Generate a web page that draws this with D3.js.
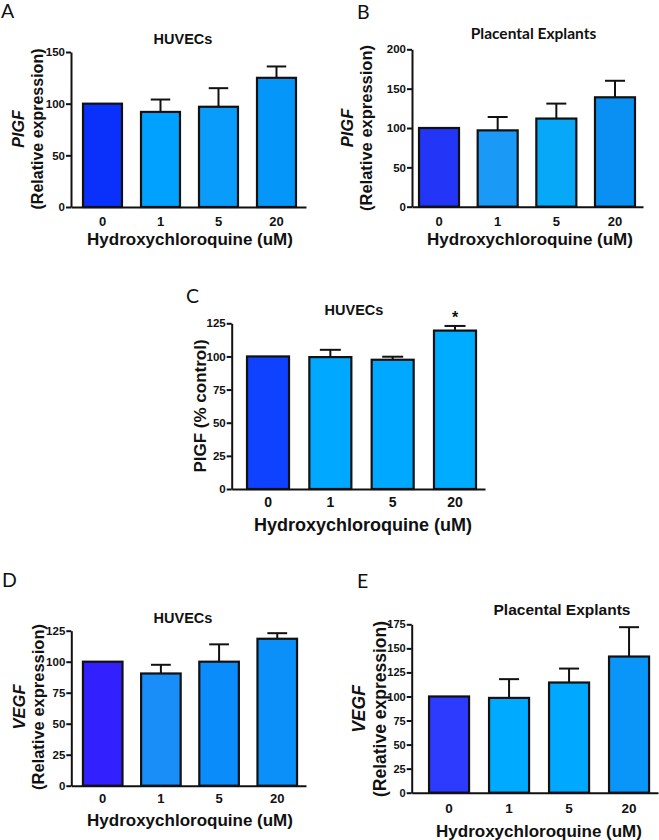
<!DOCTYPE html>
<html><head><meta charset="utf-8">
<script src="https://cdn.jsdelivr.net/npm/d3@7/dist/d3.min.js"></script>
<style>
html,body{margin:0;padding:0;background:#fff;}
svg{display:block;}
</style></head>
<body>
<svg id="c" width="659" height="840"></svg>
<script>
// ---- data ----
const doses = ["0", "1", "5", "20"];
const aMean = [100, 92, 97, 125];   const aSem = [0, 12, 18, 11];
const bMean = [100, 97, 112, 139];  const bSem = [0, 17, 19, 21];
const cMean = [100, 99.5, 97.5, 119.5]; const cSem = [0, 5.5, 2.3, 3.5];
const dMean = [100, 90.5, 100, 118.5]; const dSem = [0, 7, 14, 4.5];
const eMean = [100, 98.5, 114.5, 141.5]; const eSem = [0, 19.5, 14.5, 30.5];
const aTicks = [0, 50, 100, 150];
const bTicks = [0, 50, 100, 150, 200];
const cTicks = [0, 25, 50, 75, 100, 125];
const dTicks = [0, 25, 50, 75, 100, 125];
const eTicks = [0, 25, 50, 75, 100, 125, 150, 175];
const xTitle = "Hydroxychloroquine (uM)";

const ARIAL = "'Liberation Sans', Arial, sans-serif";
const CAL = "Lato, 'Open Sans', sans-serif";

const svg = d3.select("#c");

function panel(cfg) {
  const g = svg.append("g");
  const y = d3.scaleLinear().domain([0, cfg.ymax]).range([cfg.y0, cfg.y1]);
  const x = d3.scaleBand().domain(doses).range([cfg.x0, cfg.x1])
    .paddingInner(cfg.pi).paddingOuter(cfg.po).align(cfg.al);
  const data = doses.map((d, i) => ({d, m: cfg.mean[i], s: cfg.sem[i], c: cfg.colors[i]}));

  // bars
  g.selectAll("rect.bar").data(data).enter().append("rect")
    .attr("x", d => x(d.d)).attr("width", x.bandwidth())
    .attr("y", d => y(d.m)).attr("height", d => y(0) - y(d.m))
    .attr("fill", d => d.c).attr("stroke", "#111").attr("stroke-width", 2.2);
  // error bars
  const eb = data.filter(d => d.s > 0);
  g.selectAll("line.ev").data(eb).enter().append("line")
    .attr("x1", d => x(d.d) + x.bandwidth() / 2).attr("x2", d => x(d.d) + x.bandwidth() / 2)
    .attr("y1", d => y(d.m)).attr("y2", d => y(d.m + d.s))
    .attr("stroke", "#111").attr("stroke-width", 2);
  g.selectAll("line.ec").data(eb).enter().append("line")
    .attr("x1", d => x(d.d) + x.bandwidth() * 0.25).attr("x2", d => x(d.d) + x.bandwidth() * 0.75)
    .attr("y1", d => y(d.m + d.s)).attr("y2", d => y(d.m + d.s))
    .attr("stroke", "#111").attr("stroke-width", 2);

  // y axis
  const ya = g.append("g").attr("transform", `translate(${cfg.x0},0)`)
    .call(d3.axisLeft(y).tickValues(cfg.ticks).tickSize(5).tickSizeOuter(0).tickPadding(1));
  ya.select(".domain").attr("stroke", "#111").attr("stroke-width", 2);
  ya.selectAll(".tick line").attr("stroke", "#111").attr("stroke-width", 2);
  ya.selectAll("text").attr("font-family", ARIAL).attr("font-weight", "bold")
    .attr("font-size", cfg.ytfs).attr("fill", "#111");

  // x axis
  const xa = g.append("g").attr("transform", `translate(0,${cfg.y0})`)
    .call(d3.axisBottom(x).tickSize(0).tickSizeOuter(0));
  xa.select(".domain").attr("stroke", "#111").attr("stroke-width", 2);
  xa.selectAll("text").attr("dy", null).attr("y", cfg.xtb - cfg.y0)
    .attr("font-family", ARIAL).attr("font-weight", "bold")
    .attr("font-size", cfg.xtfs).attr("fill", "#111");

  // x title
  g.append("text").attr("x", cfg.xtx).attr("y", cfg.xty).attr("text-anchor", "middle")
    .attr("font-family", ARIAL).attr("font-weight", "bold").attr("font-size", cfg.xtitfs)
    .attr("fill", "#111").text(xTitle);

  // title
  g.append("text").attr("x", cfg.tx).attr("y", cfg.ty).attr("text-anchor", "middle")
    .attr("font-family", cfg.tfont || ARIAL).attr("font-weight", "bold").attr("font-size", cfg.tfs)
    .attr("fill", "#111").text(cfg.title);

  // y labels
  cfg.ylab.forEach(l => {
    g.append("text").attr("transform", `translate(${l.x},${cfg.ycy}) rotate(-90)`)
      .attr("text-anchor", "middle").attr("font-family", ARIAL).attr("font-weight", "bold")
      .attr("font-style", l.it ? "italic" : "normal").attr("font-size", l.fs)
      .attr("fill", "#111").text(l.t);
  });

  // panel letter
  g.append("text").attr("x", cfg.lx).attr("y", cfg.ly).attr("font-family", CAL)
    .attr("font-size", 19.5).attr("fill", "#111").text(cfg.letter);

  return {g, x, y, data};
}

panel({
  letter: "A", lx: 1, ly: 18,
  x0: 71, x1: 306, y0: 207, y1: 52, ymax: 150, ticks: aTicks,
  pi: 0.328, po: 0.19, al: 0.545,
  mean: aMean, sem: aSem, colors: ["#0a30fb", "#00a1ff", "#0a9cfb", "#0596fa"],
  ytfs: 11.5, xtfs: 13, xtb: 226, xtitfs: 17, xtx: 190, xty: 245,
  title: "HUVECs", tx: 183, ty: 44, tfs: 14.5,
  ycy: 129, ylab: [{t: "PIGF", it: true, x: 24, fs: 16}, {t: "(Relative expression)", x: 43, fs: 16}]
});

panel({
  letter: "B", lx: 357, ly: 19,
  x0: 412, x1: 643, y0: 206.7, y1: 49.3, ymax: 200, ticks: bTicks,
  pi: 0.318, po: 0.128, al: 0.467,
  mean: bMean, sem: bSem, colors: ["#2335f6", "#1a9af6", "#08a8f8", "#0a90f2"],
  ytfs: 11.5, xtfs: 13, xtb: 226, xtitfs: 17, xtx: 530, xty: 245,
  title: "Placental Explants", tx: 533.5, ty: 39, tfs: 15.5, tfont: CAL,
  ycy: 128, ylab: [{t: "PIGF", it: true, x: 353, fs: 16.5}, {t: "(Relative expression)", x: 372, fs: 16.5}]
});

const pc = panel({
  letter: "C", lx: 186, ly: 303,
  x0: 231.7, x1: 485, y0: 489, y1: 323.3, ymax: 125, ticks: cTicks,
  pi: 0.326, po: 0.195, al: 0.63,
  mean: cMean, sem: cSem, colors: ["#0f42ff", "#00a8ff", "#00a8ff", "#00acff"],
  ytfs: 11.5, xtfs: 14, xtb: 507, xtitfs: 18, xtx: 363, xty: 531,
  title: "HUVECs", tx: 354, ty: 315, tfs: 14.5,
  ycy: 406, ylab: [{t: "PIGF (% control)", x: 206, fs: 17}]
});
// significance star
pc.g.append("text")
  .attr("x", pc.x("20") + pc.x.bandwidth() / 2).attr("y", pc.y(cMean[3] + cSem[3]) - 3)
  .attr("text-anchor", "middle").attr("font-family", ARIAL).attr("font-weight", "bold")
  .attr("font-size", 16).attr("fill", "#111").text("*");

panel({
  letter: "D", lx: 2, ly: 587,
  x0: 71.3, x1: 306, y0: 785.7, y1: 630.7, ymax: 125, ticks: dTicks,
  pi: 0.32, po: 0.177, al: 0.565,
  mean: dMean, sem: dSem, colors: ["#3320ff", "#1a8ef8", "#0a8cfa", "#0a90f8"],
  ytfs: 11.5, xtfs: 13, xtb: 803, xtitfs: 17, xtx: 190, xty: 826,
  title: "HUVECs", tx: 183, ty: 623, tfs: 14.5,
  ycy: 707, ylab: [{t: "VEGF", it: true, x: 25, fs: 16.5}, {t: "(Relative expression)", x: 44, fs: 16.5}]
});

panel({
  letter: "E", lx: 357, ly: 588,
  x0: 411.7, x1: 658, y0: 792.7, y1: 624.3, ymax: 175, ticks: eTicks,
  pi: 0.333, po: 0.219, al: 0.66,
  mean: eMean, sem: eSem, colors: ["#2d3aff", "#00aaff", "#00a9ff", "#0a96f8"],
  ytfs: 11, xtfs: 13.5, xtb: 813, xtitfs: 17, xtx: 539, xty: 837,
  title: "Placental Explants", tx: 562, ty: 615, tfs: 15.5,
  ycy: 709, ylab: [{t: "VEGF", it: true, x: 365, fs: 17.5}, {t: "(Relative expression)", x: 386, fs: 17.5}]
});
</script>
</body></html>
